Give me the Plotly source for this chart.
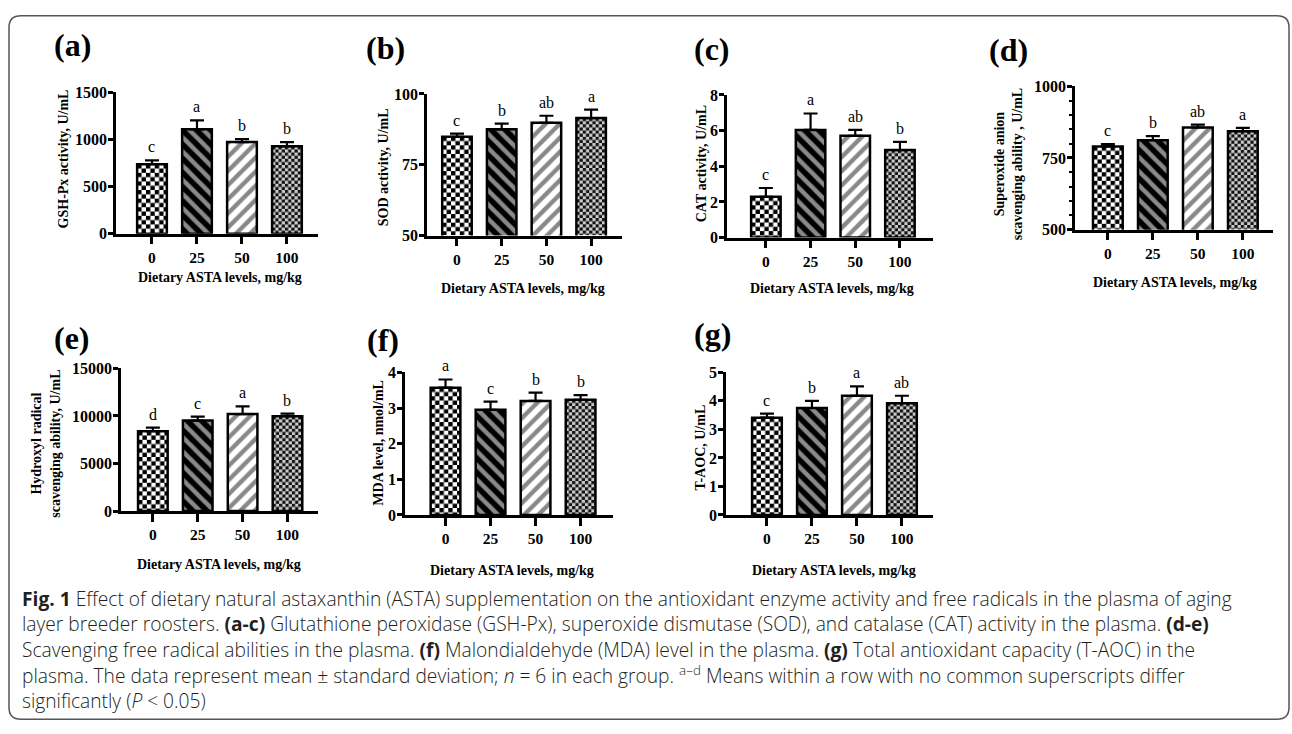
import base64
import plotly.graph_objects as go

W, H = 1292, 734

# ---- data -------------------------------------------------------------
categories = ["0", "25", "50", "100"]

gsh_px = [735, 1105, 970, 925]
gsh_px_sd = [40, 95, 30, 45]
gsh_px_sig = ["c", "a", "b", "b"]

sod = [84.9, 87.5, 89.8, 91.5]
sod_sd = [1.1, 2.0, 2.5, 3.0]
sod_sig = ["c", "b", "ab", "a"]

cat = [2.29, 6.04, 5.71, 4.91]
cat_sd = [0.49, 0.92, 0.33, 0.46]
cat_sig = ["c", "a", "ab", "b"]

superoxide = [790, 812, 856, 843]
superoxide_sd = [8, 14, 10, 12]
superoxide_sig = ["c", "b", "ab", "a"]

hydroxyl = [8400, 9520, 10200, 9970]
hydroxyl_sd = [375, 410, 815, 270]
hydroxyl_sig = ["d", "c", "a", "b"]

mda = [3.57, 2.95, 3.20, 3.23]
mda_sd = [0.23, 0.23, 0.23, 0.13]
mda_sig = ["a", "c", "b", "b"]

t_aoc = [3.41, 3.75, 4.18, 3.92]
t_aoc_sd = [0.14, 0.25, 0.33, 0.26]
t_aoc_sig = ["c", "b", "a", "ab"]

x_title = "Dietary ASTA levels, mg/kg"

caption_lines = [
    "<b>Fig. 1</b> Effect of dietary natural astaxanthin (ASTA) supplementation on the antioxidant enzyme activity and free radicals in the plasma of aging",
    "layer breeder roosters. <b>(a-c)</b> Glutathione peroxidase (GSH-Px), superoxide dismutase (SOD), and catalase (CAT) activity in the plasma. <b>(d-e)</b>",
    "Scavenging free radical abilities in the plasma. <b>(f)</b> Malondialdehyde (MDA) level in the plasma. <b>(g)</b> Total antioxidant capacity (T-AOC) in the",
    "plasma. The data represent mean ± standard deviation; <i>n</i> = 6 in each group. <sup>a–d</sup> Means within a row with no common superscripts differ",
    "significantly (<i>P</i> &lt; 0.05)",
]

# ---- panel layout (pixel boxes) ------------------------------------------
panels = [
    dict(tag="(a)", y=gsh_px, sd=gsh_px_sd, sig=gsh_px_sig, ytitle="GSH-Px activity, U/mL",
         yrange=[0, 1500], dtick=500, minor=None,
         box=(116, 318, 86, 231), xrange=[-0.8, 3.69],
         tag_xy=(72, 38), ytitle_xy=(63, 155), xtitle_xy=(220, 276)),
    dict(tag="(b)", y=sod, sd=sod_sd, sig=sod_sig, ytitle="SOD activity, U/mL",
         yrange=[50, 100], dtick=25, minor=None,
         box=(427, 622, 88, 233), xrange=[-0.67, 3.69],
         tag_xy=(385, 41), ytitle_xy=(383, 163), xtitle_xy=(523, 287)),
    dict(tag="(c)", y=cat, sd=cat_sd, sig=cat_sig, ytitle="CAT activity, U/mL",
         yrange=[0, 8], dtick=2, minor=None,
         box=(727, 933, 89, 235), xrange=[-0.87, 3.74],
         tag_xy=(712, 42), ytitle_xy=(701, 160), xtitle_xy=(832, 287)),
    dict(tag="(d)", y=superoxide, sd=superoxide_sd, sig=superoxide_sig,
         ytitle="Superoxide anion<br>scavenging ability , U/mL",
         yrange=[500, 1000], dtick=250, minor=50,
         box=(1075, 1273, 80, 227), xrange=[-0.73, 3.67],
         tag_xy=(1008, 43), ytitle_xy=(1008, 160), xtitle_xy=(1175, 281)),
    dict(tag="(e)", y=hydroxyl, sd=hydroxyl_sd, sig=hydroxyl_sig,
         ytitle="Hydroxyl radical<br>scavenging ability, U/mL",
         yrange=[0, 15000], dtick=5000, minor=None,
         box=(121, 318, 369, 515), xrange=[-0.71, 3.68],
         tag_xy=(72, 338), ytitle_xy=(46, 446), xtitle_xy=(219, 570)),
    dict(tag="(f)", y=mda, sd=mda_sd, sig=mda_sig, ytitle="MDA level, nmol/mL",
         yrange=[0, 4], dtick=1, minor=None,
         box=(405, 613, 373, 519), xrange=[-0.9, 3.72],
         tag_xy=(383, 340), ytitle_xy=(379, 445), xtitle_xy=(512, 576)),
    dict(tag="(g)", y=t_aoc, sd=t_aoc_sd, sig=t_aoc_sig, ytitle="T-AOC, U/mL",
         yrange=[0, 5], dtick=1, minor=None,
         box=(726, 933, 373, 519), xrange=[-0.91, 3.69],
         tag_xy=(712, 334), ytitle_xy=(701, 450), xtitle_xy=(834, 576)),
]

# ---- styling -------------------------------------------------------------
SERIF = "Liberation Serif, Times New Roman, serif"
GRAY = "#898989"
CLEAR = "rgba(0,0,0,0)"
BAR_W = 0.66
AX_W = 2.5

# per-group fill: stripes are native bar patterns, checkerboards are images
group_fill = [
    dict(kind="checker", dark="#000000", light="#ffffff", cell=4.4),
    dict(kind="stripes", shape="\\", fg="#000000"),
    dict(kind="stripes", shape="/", fg="#ffffff"),
    dict(kind="checker", dark="#111111", light="#cdcdcd", cell=3.2),
]


def px(x):
    return x / W


def py(y):
    return 1 - y / H


def checker_uri(dark, light, cell, width, height):
    """SVG checkerboard sized to the bar it fills (pixel units)."""
    p = 2 * cell
    svg = (
        f"<svg xmlns='http://www.w3.org/2000/svg' width='{width:.2f}' height='{height:.2f}' "
        f"viewBox='0 0 {width:.2f} {height:.2f}' preserveAspectRatio='none'><defs>"
        f"<pattern id='k' width='{p}' height='{p}' patternUnits='userSpaceOnUse'>"
        f"<rect width='{p}' height='{p}' fill='{light}'/>"
        f"<rect width='{cell}' height='{cell}' fill='{dark}'/>"
        f"<rect x='{cell}' y='{cell}' width='{cell}' height='{cell}' fill='{dark}'/>"
        f"</pattern></defs><rect width='{width:.2f}' height='{height:.2f}' fill='url(#k)'/></svg>"
    )
    return "data:image/svg+xml;base64," + base64.b64encode(svg.encode()).decode()


fig = go.Figure()
annotations = []
images = []
layout_axes = {}

xpos = list(range(len(categories)))

for n, p in enumerate(panels, start=1):
    sfx = "" if n == 1 else str(n)
    xa, ya = "x" + sfx, "y" + sfx
    x0, x1, ytop, ybot = p["box"]
    y_lo, y_hi = p["yrange"]
    bar_px_w = BAR_W * (x1 - x0) / (p["xrange"][1] - p["xrange"][0])

    for i, style in enumerate(group_fill):
        if style["kind"] == "stripes":
            marker = dict(
                color=GRAY, line=dict(color="black", width=2.5),
                pattern=dict(shape=style["shape"], fgcolor=style["fg"], fgopacity=1,
                             size=10, solidity=0.55, fillmode="overlay"),
            )
        else:
            marker = dict(color=CLEAR, line=dict(color="black", width=2.5))
            span = p["y"][i] - y_lo
            bar_px_h = span / (y_hi - y_lo) * (ybot - ytop)
            images.append(dict(
                source=checker_uri(style["dark"], style["light"], style["cell"],
                                   bar_px_w, bar_px_h),
                xref=xa, yref=ya, x=xpos[i], y=y_lo, sizex=BAR_W, sizey=span,
                xanchor="center", yanchor="bottom", sizing="stretch", layer="below",
            ))
        fig.add_trace(go.Bar(
            x=[xpos[i]], y=[p["y"][i]], width=BAR_W, xaxis=xa, yaxis=ya,
            showlegend=False, marker=marker, hoverinfo="skip",
            error_y=dict(type="data", symmetric=False, array=[p["sd"][i]],
                         arrayminus=[0], color="black", thickness=2.2, width=7),
        ))

    xaxis = dict(
        domain=[px(x0), px(x1)], anchor=ya, range=p["xrange"],
        tickmode="array", tickvals=xpos, ticktext=categories,
        showline=True, linewidth=AX_W, linecolor="black",
        ticks="outside", ticklen=8, tickwidth=AX_W, tickcolor="black",
        tickfont=dict(family=SERIF, size=15.5, color="black", weight="bold"),
        showgrid=False, zeroline=False, fixedrange=True,
    )
    yaxis = dict(
        domain=[py(ybot), py(ytop)], anchor=xa, range=p["yrange"],
        tick0=y_lo, dtick=p["dtick"], tickformat="d",
        showline=True, linewidth=AX_W, linecolor="black",
        ticks="outside", ticklen=5, tickwidth=AX_W, tickcolor="black",
        ticklabelstandoff=-2,
        tickfont=dict(family=SERIF, size=16, color="black", weight="bold"),
        showgrid=False, zeroline=False, fixedrange=True,
    )
    if p["minor"]:
        yaxis["minor"] = dict(dtick=p["minor"], ticks="outside", ticklen=3.5,
                              tickwidth=2, tickcolor="black", showgrid=False)
    layout_axes["xaxis" + sfx] = xaxis
    layout_axes["yaxis" + sfx] = yaxis

    # significance letters above each error bar
    for i, letter in enumerate(p["sig"]):
        annotations.append(dict(
            x=xpos[i], y=p["y"][i] + p["sd"][i], xref=xa, yref=ya,
            text=letter, showarrow=False, yanchor="bottom", yshift=3,
            font=dict(family=SERIF, size=16, color="black"),
        ))

    tx, ty = p["tag_xy"]
    annotations.append(dict(
        x=px(tx), y=py(ty), xref="paper", yref="paper", text=p["tag"],
        showarrow=False, xanchor="center", yanchor="middle",
        font=dict(family=SERIF, size=32, color="black", weight="bold"),
    ))
    tx, ty = p["ytitle_xy"]
    annotations.append(dict(
        x=px(tx), y=py(ty), xref="paper", yref="paper", text=p["ytitle"],
        showarrow=False, xanchor="center", yanchor="middle", textangle=-90,
        align="center",
        font=dict(family=SERIF, size=14, color="black", weight="bold"),
    ))
    tx, ty = p["xtitle_xy"]
    annotations.append(dict(
        x=px(tx), y=py(ty), xref="paper", yref="paper", text=x_title,
        showarrow=False, xanchor="center", yanchor="middle",
        font=dict(family=SERIF, size=14, color="black", weight="bold"),
    ))

# figure caption
for k, line in enumerate(caption_lines):
    annotations.append(dict(
        x=px(20), y=py(604 + 26.3 * k), xref="paper", yref="paper", text=line,
        showarrow=False, xanchor="left", yanchor="middle", align="left",
        font=dict(family="Open Sans, Noto Sans, sans-serif", size=19.2,
                  color="#231f20", weight=300),
    ))

# rounded frame around the whole figure
L, T, R, B, r = 9, 8, 1289, 728, 12
frame = (
    f"M{px(L + r)},{py(T)} L{px(R - r)},{py(T)} Q{px(R)},{py(T)} {px(R)},{py(T + r)} "
    f"L{px(R)},{py(B - r)} Q{px(R)},{py(B)} {px(R - r)},{py(B)} "
    f"L{px(L + r)},{py(B)} Q{px(L)},{py(B)} {px(L)},{py(B - r)} "
    f"L{px(L)},{py(T + r)} Q{px(L)},{py(T)} {px(L + r)},{py(T)} Z"
)

fig.update_layout(
    width=W, height=H, autosize=False,
    margin=dict(l=0, r=0, t=0, b=0),
    paper_bgcolor="white", plot_bgcolor=CLEAR, barmode="overlay",
    annotations=annotations, images=images,
    shapes=[dict(type="path", path=frame, xref="paper", yref="paper",
                 line=dict(color="#555555", width=1.5))],
    **layout_axes,
)

fig.write_html("out.html")
